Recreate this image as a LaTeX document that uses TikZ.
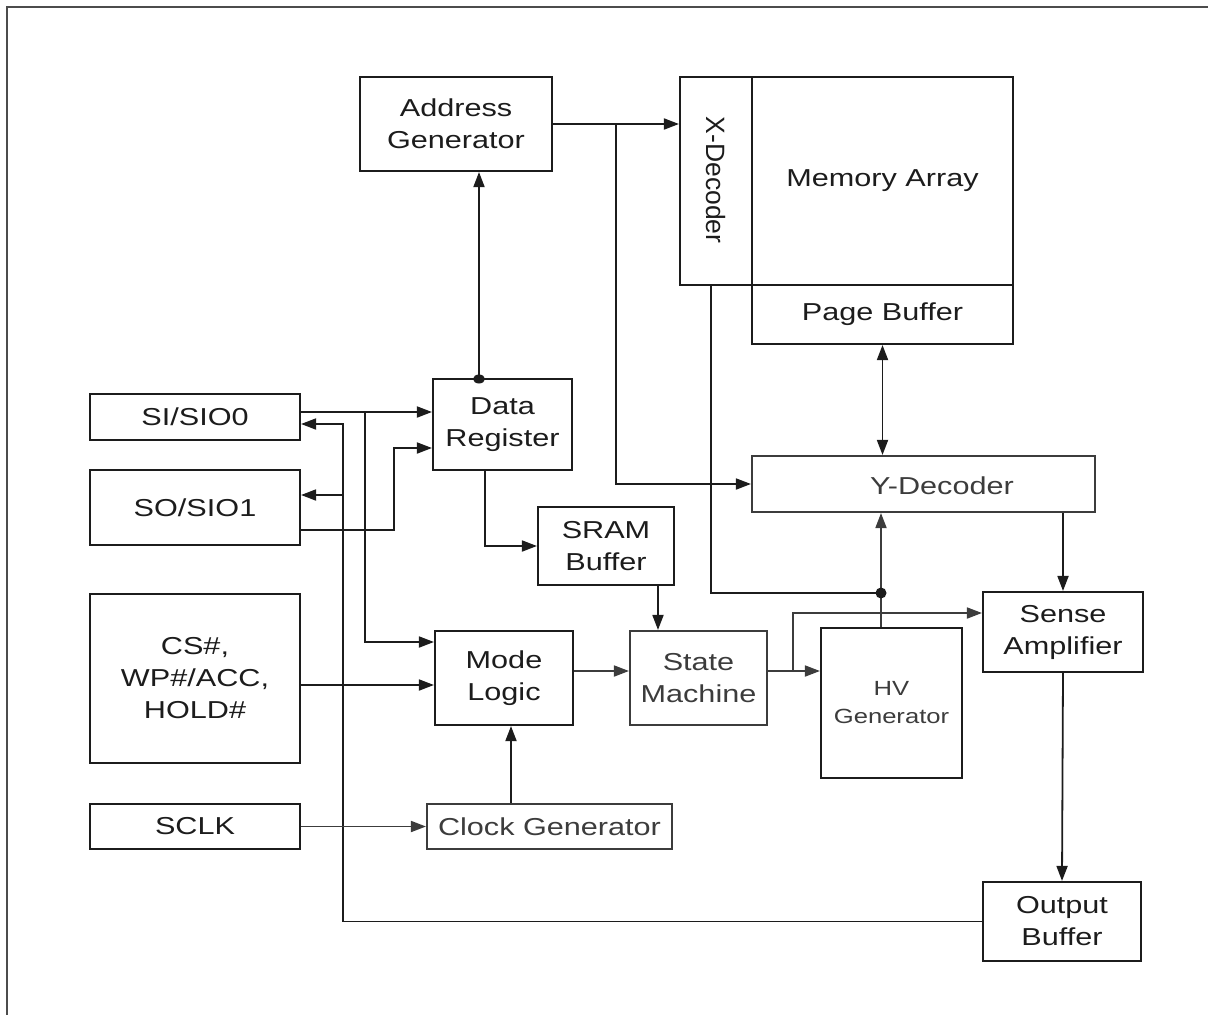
\documentclass[tikz,border=0pt]{standalone}
\usepackage{fontspec}
\setmainfont{Liberation Sans}[FakeStretch=1.25]
\newfontfamily\plainsans{Liberation Sans}
\usetikzlibrary{arrows.meta,calc}
\definecolor{ink}{HTML}{1C1C1C}
\definecolor{gink}{HTML}{3C3C3C}
\begin{document}
\begin{tikzpicture}[x=1pt,y=-1pt,
  box/.style={draw=ink, line width=2.1pt, rectangle, inner sep=0pt, align=center,
    font=\fontsize{24.5}{32}\selectfont, text=ink},
  gbox/.style={box, draw=gink, text=gink},
  lbl/.style={inner sep=0pt, align=center, font=\fontsize{24.5}{32}\selectfont, text=ink},
  conn/.style={draw=ink, line width=1.8pt},
  arr/.style={conn, -{Triangle[length=15pt,width=11pt]}},
  garr/.style={arr, draw=gink},
  darr/.style={conn, {Triangle[length=15pt,width=11pt]}-{Triangle[length=15pt,width=11pt]}}
]
\useasboundingbox (0,0) rectangle (1208,1015);
% frame
\draw[line width=2.5pt, draw=black!70] (1208,7) -- (7,7) -- (7,1015);

% blocks
\node[box, minimum width=192pt, minimum height=94pt] (addr) at (456,124) {Address\\Generator};
\node[box, minimum width=72pt, minimum height=208pt] (xdec) at (716,181) {};
\node[lbl, rotate=-90, font=\plainsans\fontsize{26.5}{32}\selectfont] (xdect) at (716,180) {X-Decoder};
\node[box, minimum width=261pt, minimum height=59pt] (page) at (882.5,314.5) {Page Buffer};
\node[box, line width=2.8pt, minimum width=261pt, minimum height=208pt] (mem) at (882.5,181) {Memory Array};
\node[gbox, minimum width=343pt, minimum height=56pt] (ydec) at (923.5,484) {};
\node[lbl, text=gink] (ydect) at (942,486) {Y-Decoder};
\node[box, minimum width=139pt, minimum height=91pt] (dreg) at (502.5,424.5) {Data\\Register};
\node[box, minimum width=136pt, minimum height=78pt] (sram) at (606,546) {SRAM\\Buffer};
\node[box, minimum width=210pt, minimum height=46pt] (si) at (195,417) {SI/SIO0};
\node[box, minimum width=210pt, minimum height=75pt] (so) at (195,507.5) {SO/SIO1};
\node[box, minimum width=210pt, minimum height=169pt] (cs) at (195,678.5) {CS\#,\\WP\#/ACC,\\HOLD\#};
\node[box, minimum width=210pt, minimum height=45pt] (sclk) at (195,826.5) {SCLK};
\node[box, minimum width=138pt, minimum height=94pt] (mode) at (504,678) {Mode\\Logic};
\node[gbox, minimum width=245pt, minimum height=45pt] (clk) at (549.5,826.5) {Clock Generator};
\node[gbox, minimum width=137pt, minimum height=94pt] (sm) at (698.5,678) {State\\Machine};
\node[box, minimum width=141pt, minimum height=150pt, font=\fontsize{20.5}{28}\selectfont, text=gink] (hv) at (891.5,703) {HV\\Generator};
\node[box, minimum width=160pt, minimum height=80pt] (sense) at (1063,632) {Sense\\Amplifier};
\node[box, minimum width=158pt, minimum height=79pt] (out) at (1062,921.5) {Output\\Buffer};

% helper coordinates
\coordinate (j1) at (616,124);
\coordinate (dg) at (479,379);
\coordinate (xb) at (711,285);
\coordinate (dot) at (881,593);
\coordinate (r671) at (0,671);
\coordinate (b1) at (793,671);
\coordinate (r613) at (0,613);
\coordinate (vb) at (343,424);
\coordinate (r495) at (0,495);
\coordinate (r412) at (0,412);
\coordinate (j2) at (365,412);
\coordinate (r642) at (0,642);
\coordinate (k1) at (394,530);
\coordinate (r448) at (0,448);
\coordinate (r685) at (0,685);
\coordinate (c511) at (511,0);
\coordinate (c658) at (658,0);
\coordinate (d1) at (485,547);

% connectors
\draw[arr] (addr.east) -- (xdec.west |- addr.east);
\draw[arr] (j1) |- (ydec.west);
\draw[arr] (dg) -- (dg |- addr.south);
\fill[ink] (dg) ellipse [x radius=6pt, y radius=4.5pt];
\draw[darr] (page.south) -- (page.south |- ydec.north);
\draw[conn] (xb) |- (dot);
\draw[garr] (dot |- hv.north) -- (dot |- ydec.south);
\fill[ink] (dot) circle [radius=5.5pt];
\draw[garr] (mode.east |- r671) -- (sm.west |- r671);
\draw[garr] (sm.east |- r671) -- (hv.west |- r671);
\draw[garr] (b1) |- (sense.west |- r613);
\draw[arr] (ydec.south -| sense.north) -- (sense.north);
\draw[arr] (sense.south) -- (out.north);
\draw[arr] (out.west) -| (vb) -- (si.east |- vb);
\draw[arr] (vb |- r495) -- (so.east |- r495);
\draw[arr] (si.east |- r412) -- (dreg.west |- r412);
\draw[arr] (j2) |- (mode.west |- r642);
\draw[arr] (so.east |- k1) -- (k1) |- (dreg.west |- r448);
\draw[arr] (cs.east |- r685) -- (mode.west |- r685);
\draw[garr] (sclk.east) -- (clk.west);
\draw[arr] (clk.north -| c511) -- (mode.south -| c511);
\draw[arr] (sram.south -| c658) -- (sm.north -| c658);
\draw[arr] (dreg.south -| d1) |- (sram.west);
\end{tikzpicture}
\end{document}
